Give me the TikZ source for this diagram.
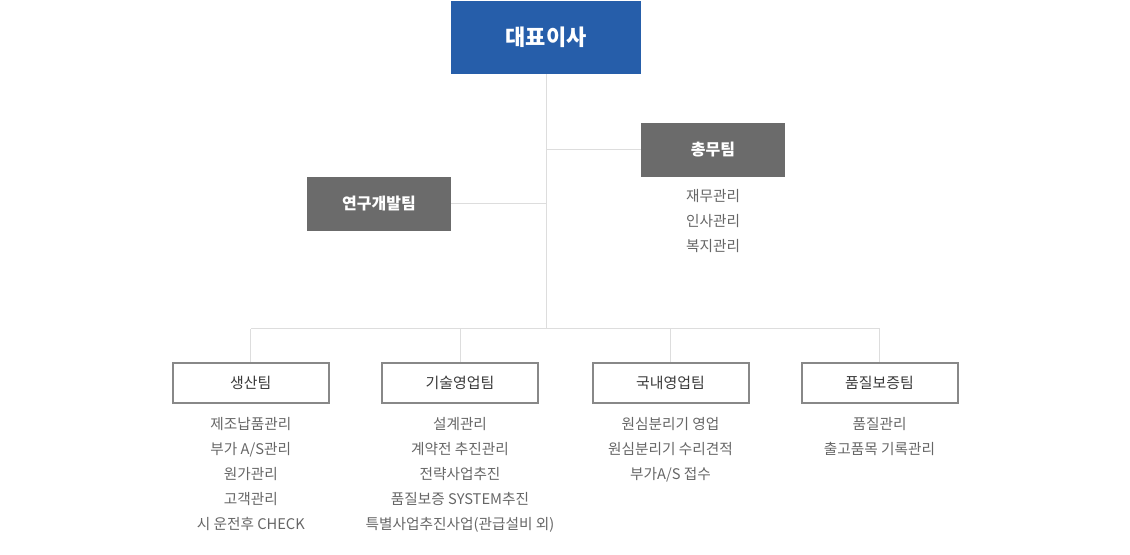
\documentclass[tikz,border=0pt]{standalone}
\usepackage{fontspec}
\setmainfont{Noto Sans CJK KR}
\usetikzlibrary{positioning}
\definecolor{ceoblue}{HTML}{265EAA}
\definecolor{deptgray}{HTML}{6B6B6B}
\definecolor{teamborder}{HTML}{888888}
\definecolor{teamtext}{HTML}{3A3A3A}
\definecolor{dutygray}{HTML}{666666}
\definecolor{linegray}{HTML}{DDDDDD}

\begin{document}
\begin{tikzpicture}[
    x=0.75pt, y=-0.75pt,
    ceo/.style = {fill=ceoblue, text=white, font=\fontsize{16.5}{20}\selectfont\bfseries, minimum width=142.5pt, minimum height=54.75pt},
    dept/.style = {fill=deptgray, text=white, font=\fontsize{12}{14}\selectfont\bfseries, minimum width=108pt, minimum height=40.5pt},
    team/.style = {draw=teamborder, line width=1.5pt, fill=white, text=teamtext, font=\fontsize{11.2}{13}\selectfont, minimum width=117pt, minimum height=30.5pt},
    duties/.style = {text=dutygray, align=center, font=\fontsize{11}{18.75}\selectfont},
    link/.style = {draw=linegray, line width=0.75pt}
  ]
  \useasboundingbox (0,0) rectangle (1130,555);

  \node[ceo] (ceo) at (546,37.5) {대표이사};

  \node[dept] (gen) at (713,150) {총무팀};
  \node[duties, below=5.5pt of gen] (gen duties) {재무관리\\인사관리\\복지관리};

  \node[dept] (rnd) at (379,204) {연구개발팀};

  \coordinate (bus) at (546,329);

  \node[team] (prod) at (250.8,383) {생산팀};
  \node[duties, below=6.5pt of prod] (prod duties) {제조납품관리\\부가 A/S관리\\원가관리\\고객관리\\시 운전후 CHECK};

  \node[team] (tech) at (460,383) {기술영업팀};
  \node[duties, below=6.5pt of tech] (tech duties) {설계관리\\계약전 추진관리\\전략사업추진\\품질보증 SYSTEM추진\\특별사업추진사업(관급설비 외)};

  \node[team] (dom) at (670.5,383) {국내영업팀};
  \node[duties, below=6.5pt of dom] (dom duties) {원심분리기 영업\\원심분리기 수리견적\\부가A/S 접수};

  \node[team] (qa) at (879.5,383) {품질보증팀};
  \node[duties, below=6.5pt of qa] (qa duties) {품질관리\\출고품목 기록관리};

  \draw[link] (ceo.south) -- (bus);
  \draw[link] (gen.west) -- (gen.west -| bus);
  \draw[link] (rnd.east) -- (rnd.east -| bus);
  \draw[link] (prod.north |- bus) -- (qa.north |- bus);
  \draw[link] (prod.north) -- (prod.north |- bus);
  \draw[link] (tech.north) -- (tech.north |- bus);
  \draw[link] (dom.north) -- (dom.north |- bus);
  \draw[link] (qa.north) -- (qa.north |- bus);
\end{tikzpicture}
\end{document}
